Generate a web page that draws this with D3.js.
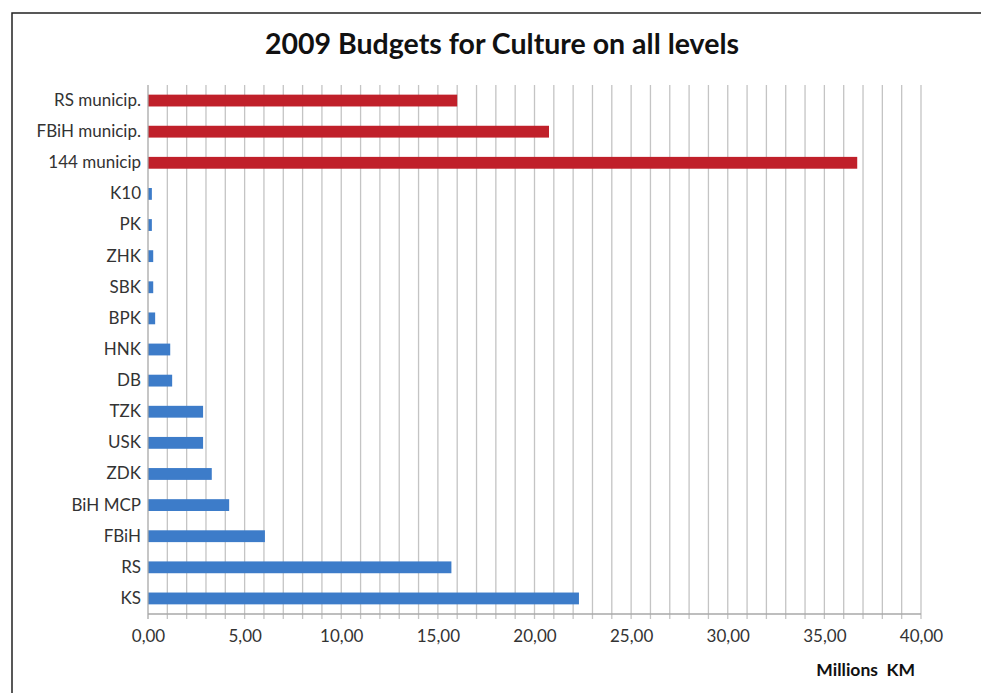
<!DOCTYPE html>
<html><head><meta charset="utf-8">
<script src="https://cdn.jsdelivr.net/npm/d3@7"></script>
<style>body{margin:0;background:#fff}svg{display:block}</style>
</head><body>
<script>
const categories = ["RS municip.","FBiH municip.","144 municip","K10","PK","ZHK","SBK","BPK","HNK","DB","TZK","USK","ZDK","BiH MCP","FBiH","RS","KS"];
const values = [16.0,20.75,36.7,0.2,0.2,0.27,0.27,0.37,1.15,1.25,2.85,2.85,3.3,4.2,6.05,15.7,22.3];
const groups = ["mun","mun","mun","c","c","c","c","c","c","c","c","c","c","c","c","c","c"];
const xTicks = [0,5,10,15,20,25,30,35,40];
const title = "2009 Budgets for Culture on all levels";
const axisTitle = "Millions  KM";

const W=981,H=693;
const svg=d3.select("body").append("svg").attr("width",W).attr("height",H);
svg.append("rect").attr("x",12).attr("y",13).attr("width",1000).attr("height",720)
  .attr("fill","#fff").attr("stroke","#222").attr("stroke-width",1.5);

const m={l:148,r:921,t:85,b:614};
const x=d3.scaleLinear().domain([0,40]).range([m.l,m.r]);
const y=d3.scaleBand().domain(categories).range([m.t,m.b]).paddingInner(0.62).paddingOuter(0.31);
const color=d3.scaleOrdinal().domain(["mun","c"]).range(["#c0202a","#3d7cc9"]);

// gridlines every 1 unit
svg.append("g").selectAll("line").data(d3.range(1,41)).join("line")
  .attr("x1",d=>x(d)).attr("x2",d=>x(d)).attr("y1",m.t).attr("y2",m.b+5)
  .attr("stroke","#c4c4c4").attr("stroke-width",1.3);

svg.append("g").selectAll("rect").data(categories).join("rect")
  .attr("x",x(0)).attr("y",d=>y(d)).attr("height",y.bandwidth())
  .attr("width",(d,i)=>x(values[i])-x(0)).attr("fill",(d,i)=>color(groups[i]));

// axes lines
svg.append("line").attr("x1",m.l).attr("x2",m.r).attr("y1",m.b).attr("y2",m.b).attr("stroke","#a8a8a8").attr("stroke-width",1.3);
svg.append("line").attr("x1",m.l).attr("x2",m.l).attr("y1",m.t).attr("y2",m.b+5).attr("stroke","#a8a8a8").attr("stroke-width",1.3);

const xa=svg.append("g").attr("transform",`translate(0,${m.b})`)
  .call(d3.axisBottom(x).tickValues(xTicks).tickSize(0).tickPadding(16).tickFormat(d=>d3.format(".2f")(d).replace(".",",")));
xa.select(".domain").remove();
xa.selectAll("text").attr("font-family","Lato").attr("font-size",17).attr("fill","#333");

const ya=svg.append("g").attr("transform",`translate(${m.l},0)`)
  .call(d3.axisLeft(y).tickSize(0).tickPadding(7));
ya.select(".domain").remove();
ya.selectAll("text").attr("font-family","Lato").attr("font-size",17).attr("fill","#333");

svg.append("text").attr("x",502).attr("y",54).attr("text-anchor","middle")
  .attr("font-family","Lato").attr("font-weight","bold").attr("font-size",28.5).attr("fill","#111").text(title);
svg.append("text").attr("x",915).attr("y",676).attr("text-anchor","end")
  .attr("font-family","Lato").attr("font-weight","bold").attr("font-size",17.5).attr("fill","#111")
  .attr("xml:space","preserve").style("white-space","pre").text(axisTitle);
</script>
</body></html>
